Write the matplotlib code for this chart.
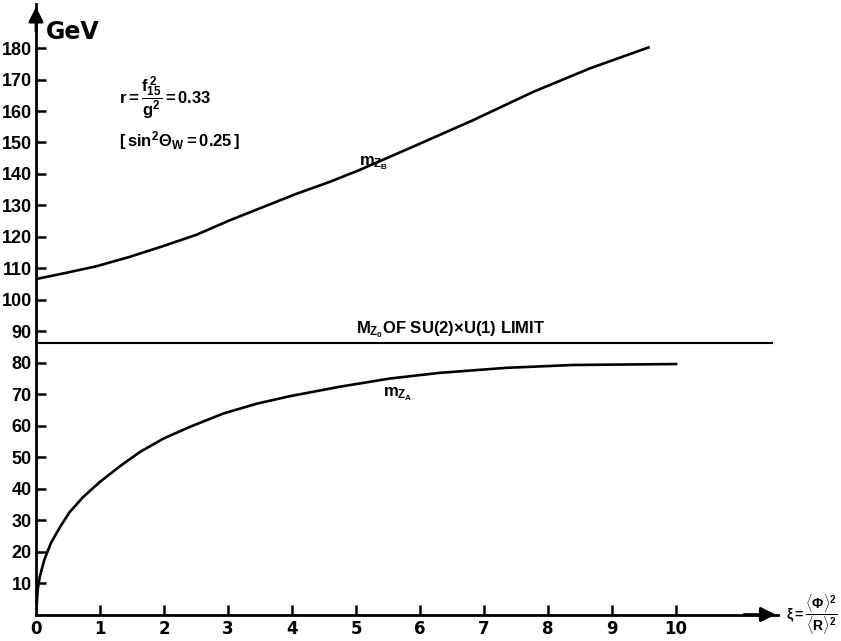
import matplotlib
matplotlib.use("Agg")
import matplotlib.pyplot as plt

# Curves (xi, mass in GeV).
xi_b = [0.0, 0.43, 0.95, 1.47, 1.99, 2.51, 3.03, 3.55, 4.07, 4.59, 5.06,
        5.95, 6.83, 7.77, 8.66, 9.57]
m_zb = [106.6, 108.4, 110.7, 113.7, 117.1, 120.7, 125.3, 129.5, 133.7, 137.5, 141.3,
        149.2, 157.1, 166.1, 173.6, 180.2]

xi_a = [0.0, 0.01, 0.026, 0.06, 0.13, 0.235, 0.37, 0.52, 0.73, 0.99, 1.31, 1.62,
        1.99, 2.40, 2.93, 3.45, 3.97, 4.75, 5.53, 6.31, 7.35, 8.40, 10.0]
m_za = [0.0, 2.5, 7.8, 12.1, 17.4, 22.8, 27.6, 32.4, 37.2, 42.0, 47.1, 51.6,
        55.9, 59.6, 63.9, 67.0, 69.4, 72.4, 75.0, 76.8, 78.4, 79.3, 79.6]

m_z0 = 86.4
xi_limit = [0.0, 11.5]

x_ticks = list(range(0, 11))
y_ticks = list(range(10, 190, 10))

plt.rcParams["font.family"] = ["Liberation Sans", "DejaVu Sans"]
plt.rcParams["font.weight"] = "bold"
plt.rcParams["mathtext.fontset"] = "custom"
plt.rcParams["mathtext.rm"] = "Liberation Sans:bold"
plt.rcParams["mathtext.it"] = "Liberation Sans:bold"
plt.rcParams["mathtext.bf"] = "Liberation Sans:bold"

fig = plt.figure(figsize=(8.41, 6.41), dpi=100)
ax = fig.add_axes([0.0428, 0.0413, 0.8828, 0.9524])

ax.plot(xi_b, m_zb, color="black", linewidth=1.9, solid_joinstyle="round")
ax.plot(xi_a, m_za, color="black", linewidth=1.9, solid_joinstyle="round")
ax.plot(xi_limit, [m_z0, m_z0], color="black", linewidth=1.5)

ax.set_xlim(0, 11.6)
ax.set_ylim(0, 194)

for side in ["top", "right"]:
    ax.spines[side].set_visible(False)
for side in ["left", "bottom"]:
    ax.spines[side].set_linewidth(2)

# Arrow heads on the axes.
ax.annotate("", xy=(1.0, 0), xytext=(0.95, 0), xycoords="axes fraction",
            arrowprops=dict(arrowstyle="-|>", mutation_scale=22, color="black", lw=2))
ax.annotate("", xy=(0, 1.0), xytext=(0, 0.95), xycoords="axes fraction",
            arrowprops=dict(arrowstyle="-|>", mutation_scale=22, color="black", lw=2))

ax.set_xticks(x_ticks)
ax.set_xticklabels([str(t) for t in x_ticks], fontsize=12, fontweight="bold",
                   family=["DejaVu Sans"])
ax.set_yticks(y_ticks)
ax.set_yticklabels([str(t) for t in y_ticks], fontsize=13, fontweight="bold")
ax.tick_params(axis="x", direction="in", length=7, width=1.8, pad=4)
ax.tick_params(axis="y", direction="in", length=7, width=1.8, pad=3)
ax.xaxis.get_major_ticks()[0].tick1line.set_visible(False)

ax.text(0.15, 185, "GeV", fontsize=17, fontweight="bold", family=["DejaVu Sans"],
        va="center", ha="left")
ax.text(1.3, 164, r"$r=\dfrac{f_{15}^{\,2}}{g^2}=0.33$", fontsize=12, va="center", ha="left")
ax.text(1.3, 150.5, r"$[\,sin^2\Theta_W=0.25\,]$", fontsize=12, va="center", ha="left")

ax.text(5.05, 143.5, r"$m_{Z_B}$", fontsize=12, va="center", ha="left")
ax.text(5.42, 70.0, r"$m_{Z_A}$", fontsize=12, va="center", ha="left")
ax.text(5.0, 90.5, r"$M_{Z_0}$" + "OF SU(2)\u00d7U(1) LIMIT", fontsize=12,
        fontweight="bold", va="center", ha="left")

ax.text(11.72, 0, r"$\xi=\dfrac{\langle\Phi\rangle^2}{\langle R\rangle^2}$", fontsize=10,
        va="center", ha="left", clip_on=False)

fig.savefig("out.png", dpi=100)
